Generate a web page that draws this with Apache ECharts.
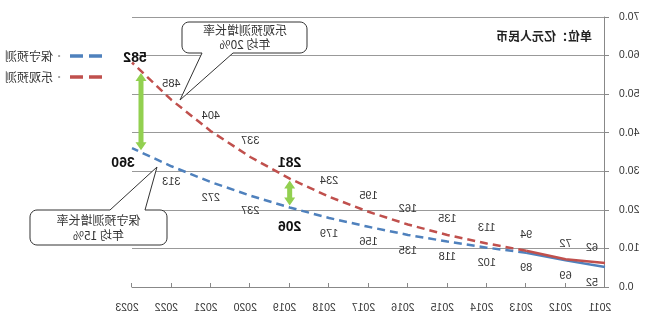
<!DOCTYPE html>
<html>
<head>
<meta charset="utf-8">
<script src="https://cdn.jsdelivr.net/npm/echarts@6/dist/echarts.min.js"></script>
<style>
html,body{margin:0;padding:0;background:#fff;overflow:hidden}
#c{width:651px;height:318px;transform:scaleX(-1);transform-origin:50% 50%}
</style>
</head>
<body>
<div id="c"></div>
<script>
// ---- data ----
const categories = ['2011','2012','2013','2014','2015','2016','2017','2018','2019','2020','2021','2022','2023'];
const optimistic = [62, 72, 94, 113, 135, 162, 195, 234, 281, 337, 404, 485, 582];
const conservative = [52, 69, 89, 102, 118, 135, 156, 179, 206, 237, 272, 313, 360];
const seriesNames = ['保守预测', '乐观预测'];
const actualEnd = 2;            // last actual year index (2013): solid up to here
const highlightIdx = [8, 12];   // 2019, 2023 bold labels
const yMax = 700, yStep = 100;
const calloutTexts = [['乐观预测增长率', '年均 20%'], ['保守预测增长率', '年均 15%']];
const unitText = '单位：亿元人民币';

const RED = '#C0504D', BLUE = '#4F81BD', GREEN = '#92D050';
const NUMFONT = 'Liberation Sans';
const CJK = 'Noto Sans CJK SC';

function labelFor(isRed, i, show) {
  const l = {
    show: show, position: isRed ? 'top' : 'bottom', distance: 10,
    fontSize: 11, color: '#333', fontFamily: NUMFONT
  };
  if (highlightIdx.indexOf(i) >= 0) {
    l.fontSize = 14; l.fontWeight = 'bold'; l.color = '#111';
    l.distance = isRed ? 8 : 13;
  }
  if (i === categories.length - 1) {
    if (isRed) { l.distance = 2; l.offset = [-3, 5]; }
    else { l.distance = 8; l.offset = [9, 0]; }
  }
  if (i === 0) l.offset = [13, 0];
  return l;
}

function makeData(vals, isRed, part) {
  return vals.map((v, i) => {
    if (part === 'solid') {
      if (i > actualEnd) return '-';
      return { value: v, label: labelFor(isRed, i, true) };
    } else {
      if (i < actualEnd) return '-';
      return { value: v, label: labelFor(isRed, i, i > actualEnd) };
    }
  });
}

function lineSeries(name, vals, color, isRed, part) {
  return {
    name: name, type: 'line', data: makeData(vals, isRed, part),
    symbol: 'circle', symbolSize: 0.1, showSymbol: true,
    itemStyle: { color: color },
    lineStyle: { color: color, width: 2.5, type: part === 'solid' ? 'solid' : [8, 5] },
    emphasis: { disabled: true }, silent: true,
    z: isRed ? 4 : 3
  };
}

const chart = echarts.init(document.getElementById('c'), null, { renderer: 'canvas' });
const option = {
  animation: false,
  backgroundColor: '#ffffff',
  grid: { left: 46, right: 132, top: 17, bottom: 31, containLabel: false },
  xAxis: {
    type: 'category', data: categories, boundaryGap: false,
    axisLine: { lineStyle: { color: '#888', width: 1 } },
    axisTick: { inside: true, length: 4, lineStyle: { color: '#888' } },
    axisLabel: { color: '#333', fontSize: 10.5, fontFamily: NUMFONT, margin: 16, padding: [0, 0, 0, 10] },
    splitLine: { show: false }
  },
  yAxis: {
    type: 'value', min: 0, max: yMax, interval: yStep,
    axisLine: { show: true, lineStyle: { color: '#888', width: 1 } },
    axisTick: { show: true, length: 4, lineStyle: { color: '#888' } },
    axisLabel: { color: '#333', fontSize: 10.5, fontFamily: NUMFONT, margin: 14,
                 formatter: v => (v / 10).toFixed(1) },
    splitLine: { lineStyle: { color: '#999', width: 1 } }
  },
  legend: {
    orient: 'vertical', left: 544, top: 45, itemWidth: 32, itemHeight: 3.5, itemGap: 9,
    selectedMode: false,
    data: [
      { name: seriesNames[0], icon: 'path://M0,0H13V3.5H0Z M19,0H32V3.5H19Z', itemStyle: { color: BLUE } },
      { name: seriesNames[1], icon: 'path://M0,0H13V3.5H0Z M19,0H32V3.5H19Z', itemStyle: { color: RED } }
    ],
    formatter: name => '{d|•}{t|' + name + '}',
    textStyle: {
      rich: {
        d: { color: '#999', fontSize: 8, width: 12, align: 'center' },
        t: { color: '#333', fontSize: 12, fontFamily: CJK }
      }
    }
  },
  series: [
    lineSeries(seriesNames[0], conservative, BLUE, false, 'solid'),
    lineSeries(seriesNames[0], conservative, BLUE, false, 'dash'),
    lineSeries(seriesNames[1], optimistic, RED, true, 'solid'),
    lineSeries(seriesNames[1], optimistic, RED, true, 'dash')
  ]
};
chart.setOption(option);

// ---- annotations ----
function arcPts(cx, cy, r, a0, a1) {
  const pts = [];
  const n = 6;
  for (let k = 0; k <= n; k++) {
    const a = a0 + (a1 - a0) * k / n;
    pts.push([cx + r * Math.cos(a), cy + r * Math.sin(a)]);
  }
  return pts;
}
function calloutPts(x, y, w, h, r, side, b1, b2, tx, ty) {
  const P = Math.PI;
  let pts = [];
  // top-left corner -> top edge -> top-right corner
  pts = pts.concat(arcPts(x + r, y + r, r, P, 1.5 * P));
  if (side === 'top') { pts.push([b1, y], [tx, ty], [b2, y]); }
  pts = pts.concat(arcPts(x + w - r, y + r, r, 1.5 * P, 2 * P));
  pts = pts.concat(arcPts(x + w - r, y + h - r, r, 0, 0.5 * P));
  if (side === 'bottom') { pts.push([b2, y + h], [tx, ty], [b1, y + h]); }
  pts = pts.concat(arcPts(x + r, y + h - r, r, 0.5 * P, P));
  return pts;
}

function px(i, v) { return chart.convertToPixel({ gridIndex: 0 }, [i, v]); }
function yAt(vals, i, dx) {
  const a = px(i, vals[i]);
  if (dx === 0) return a;
  const j = dx < 0 ? i - 1 : i + 1;
  const b = px(j, vals[j]);
  const t = Math.abs(dx) / Math.abs(b[0] - a[0]);
  return [a[0] + dx, a[1] + (b[1] - a[1]) * t];
}
function arrow(id, i, dx) {
  const top = yAt(optimistic, i, dx), bot = yAt(conservative, i, dx);
  const x = top[0], y1 = top[1] + 2, y2 = bot[1] - 2;
  const hw = 5.5, hh = 8, sw = 2.5;
  const pts = [[x, y1], [x + hw, y1 + hh], [x + sw, y1 + hh], [x + sw, y2 - hh], [x + hw, y2 - hh],
               [x, y2], [x - hw, y2 - hh], [x - sw, y2 - hh], [x - sw, y1 + hh], [x - hw, y1 + hh]];
  return { id: id, type: 'polygon', shape: { points: pts }, style: { fill: GREEN }, z: 20, silent: true };
}

const graphics = [
  { id: 'unit', type: 'text', x: 59, y: 36, z: 10, silent: true,
    style: { text: unitText, font: 'bold 12px "' + CJK + '"', fill: '#222', align: 'left', verticalAlign: 'middle' } },
  { id: 'c1', type: 'polygon', z: 15, silent: true,
    shape: { points: calloutPts(344, 22, 125, 31, 7, 'bottom', 418, 449, 471, 100) },
    style: { fill: '#fff', stroke: '#333', lineWidth: 1 } },
  { id: 'c1t', type: 'text', z: 16, x: 406, y: 37.5, silent: true,
    style: { text: calloutTexts[0].join('\n'), font: '12px "' + CJK + '"', fill: '#333',
             align: 'center', verticalAlign: 'middle', lineHeight: 14 } },
  { id: 'c2', type: 'polygon', z: 15, silent: true,
    shape: { points: calloutPts(484, 210, 137, 35, 7, 'top', 506, 541, 494, 167) },
    style: { fill: '#fff', stroke: '#333', lineWidth: 1 } },
  { id: 'c2t', type: 'text', z: 16, x: 552.5, y: 227.5, silent: true,
    style: { text: calloutTexts[1].join('\n'), font: '12px "' + CJK + '"', fill: '#333',
             align: 'center', verticalAlign: 'middle', lineHeight: 15 } },
  arrow('a1', categories.length - 1, -9),
  arrow('a2', 8, 0)
];
chart.setOption({ graphic: graphics });
</script>
</body>
</html>
